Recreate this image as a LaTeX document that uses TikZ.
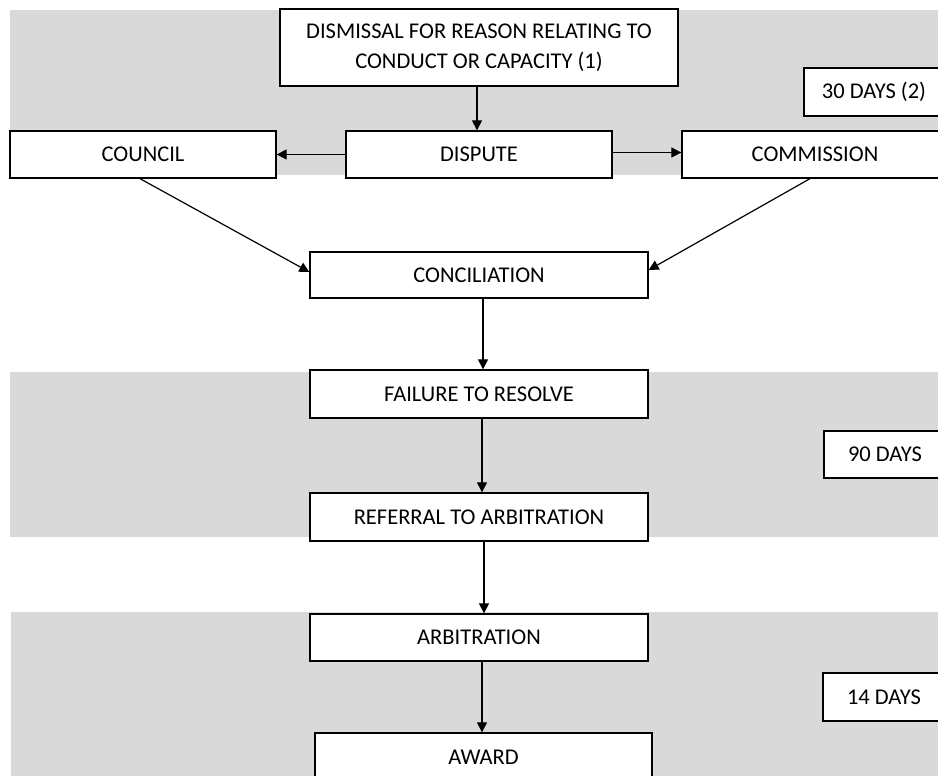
\documentclass[tikz,border=0pt]{standalone}
\usepackage{fontspec}
\setmainfont{Carlito}
\usetikzlibrary{arrows.meta}
\definecolor{band}{HTML}{D9D9D9}
\begin{document}
\begin{tikzpicture}[x=1pt,y=-1pt,
  box/.style={draw=black,line width=1.3pt,fill=white,inner sep=0pt,
    font=\fontsize{22.5}{30}\selectfont,minimum height=47pt},
  wide/.style={box,minimum width=338pt},
  arr/.style={line width=1.2pt,-{Triangle[length=10pt,width=10pt]}}]
\useasboundingbox (0,0) rectangle (938,776);
\clip (0,0) rectangle (938,776);

% shaded time-limit bands
\fill[band] (10,10) rectangle (938,175);
\fill[band] (10,372) rectangle (938,537);
\fill[band] (11,612) rectangle (938,776);

% process boxes
\node[box,minimum width=398pt,minimum height=77pt,align=center] (dismissal) at (479,47.5)
  {DISMISSAL FOR REASON RELATING TO\\CONDUCT OR CAPACITY (1)};
\node[box,minimum width=266pt] (council) at (143,154.5) {COUNCIL};
\node[box,minimum width=266pt] (dispute) at (479,154.5) {DISPUTE};
\node[box,minimum width=266pt] (commission) at (815,154.5) {COMMISSION};
\node[wide,minimum height=46pt] (concil) at (479,275) {CONCILIATION};
\node[wide,minimum height=48pt] (failure) at (479,394) {FAILURE TO RESOLVE};
\node[wide,minimum height=48pt] (referral) at (479,517) {REFERRAL TO ARBITRATION};
\node[wide] (arbitration) at (479,637.5) {ARBITRATION};
\node[box,minimum width=337pt,minimum height=48pt] (award) at (483.5,757) {AWARD};

% time limits
\node[box,minimum width=140pt,minimum height=48pt] (t30) at (874,92) {30 DAYS (2)};
\node[box,minimum width=122pt] (t90) at (885,454.5) {90 DAYS};
\node[box,minimum width=122pt,minimum height=48pt] (t14) at (884,697) {14 DAYS};

% connectors
\draw[arr] ([xshift=-2pt]dismissal.south) -- ([xshift=-2pt]dispute.north);
\draw[arr] (dispute.west) -- (council.east);
\draw[arr] ([yshift=2pt]dispute.east) -- ([yshift=2pt]commission.west);
\draw[arr] ([xshift=-3pt]council.south) -- ([yshift=3pt]concil.west);
\draw[arr] ([xshift=-5pt]commission.south) -- ([yshift=5pt]concil.east);
\draw[arr] ([xshift=4pt]concil.south) -- ([xshift=4pt]failure.north);
\draw[arr] ([xshift=3pt]failure.south) -- ([xshift=3pt]referral.north);
\draw[arr] ([xshift=5pt]referral.south) -- ([xshift=5pt]arbitration.north);
\draw[arr] ([xshift=3pt]arbitration.south) -- ([xshift=-1.5pt]award.north);
\end{tikzpicture}
\end{document}
